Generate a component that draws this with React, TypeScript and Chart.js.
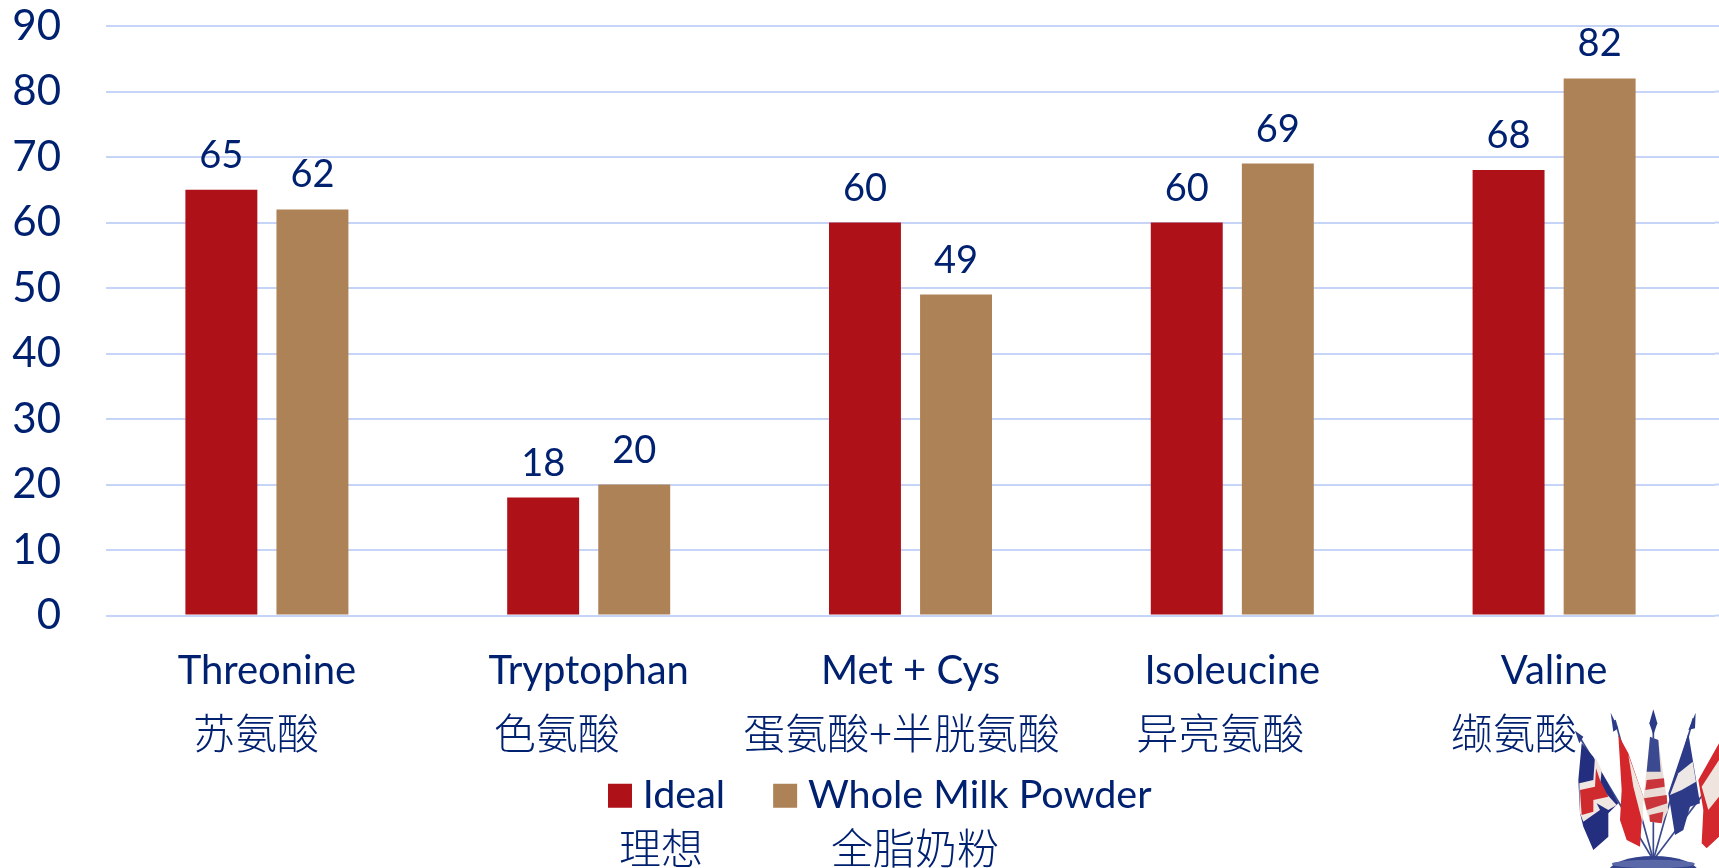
import React, { useEffect, useRef } from "react";
import { Chart, registerables } from "chart.js";

Chart.register(...registerables);

// Amino acid profile: ideal pattern against whole milk powder
const aminoAcids = ["Threonine", "Tryptophan", "Met + Cys", "Isoleucine", "Valine"];
const aminoAcidsZh = ["苏氨酸", "色氨酸", "蛋氨酸+半胱氨酸", "异亮氨酸", "缬氨酸"];
const idealValues = [65, 18, 60, 60, 68];
const milkPowderValues = [62, 20, 49, 69, 82];
const seriesNames = ["Ideal", "Whole Milk Powder"];
const seriesNamesZh = ["理想", "全脂奶粉"];

const INK = "#002070";
const GRID = "#C6D4F8";
const RED = "#AE1117";
const TAN = "#AE8257";
const LATIN = "Lato, 'Open Sans', sans-serif";
const CJK = "'Noto Sans CJK SC', sans-serif";

// Chinese captions sit a little left of the category centre
const captionShift = [-11, -32, -9, -12, -40];
const legendPad = 57;

const annotations = {
  id: "annotations",
  afterLayout(chart: any) {
    // Legend sits off-centre, just under the category captions
    const lg = chart.legend;
    const w = lg.right - lg.left;
    lg.left = 617 - legendPad;
    lg.right = lg.left + w;
    const h = lg.bottom - lg.top;
    lg.top = 776 - legendPad;
    lg.bottom = lg.top + h;
  },
  beforeDatasetsDraw(chart: any) {
    // Grid lines run on to the right edge of the canvas
    const { ctx, chartArea, scales, width } = chart;
    ctx.save();
    ctx.strokeStyle = GRID;
    ctx.lineWidth = 2;
    scales.y.ticks.forEach((_: any, i: number) => {
      const y = scales.y.getPixelForTick(i);
      ctx.beginPath();
      ctx.moveTo(chartArea.right, y);
      ctx.lineTo(width, y);
      ctx.stroke();
    });
    ctx.restore();
  },
  afterDatasetsDraw(chart: any) {
    const { ctx, scales } = chart;
    ctx.save();
    ctx.fillStyle = INK;
    ctx.textAlign = "center";
    ctx.textBaseline = "alphabetic";

    // Value labels above the bars
    ctx.font = `38px ${LATIN}`;
    chart.data.datasets.forEach((ds: any, d: number) => {
      chart.getDatasetMeta(d).data.forEach((bar: any, i: number) => {
        ctx.fillText(String(ds.data[i]), bar.x, bar.y - 22);
      });
    });

    // Chinese category captions
    ctx.font = `300 42px ${CJK}`;
    aminoAcidsZh.forEach((t, i) => {
      ctx.fillText(t, scales.x.getPixelForTick(i) + captionShift[i], 749);
    });

    // Chinese series captions under the legend
    ctx.fillText(seriesNamesZh[0], 661, 864);
    ctx.fillText(seriesNamesZh[1], 915, 864);
    ctx.restore();
  },
};

// Small emblem of five flags in a bowl, bottom right corner
function FlagEmblem() {
  return (
    <svg
      viewBox="0 0 1257 684"
      width={419}
      height={228}
      style={{ position: "absolute", left: 1300, top: 640 }}
    >
      <g stroke="#3A4A8C" strokeWidth={5} fill="none">
        <path d="M1060 660 L835 285" />
        <path d="M1060 660 L945 240" />
        <path d="M1060 660 L1060 225" />
        <path d="M1060 660 L1180 235" />
        <path d="M1060 660 L1257 400" />
      </g>
      <g fill="#2B3A86">
        <path d="M825 272 L850 290 L838 310 Z" />
        <path d="M932 218 L955 265 L940 275 Z" />
        <path d="M1060 208 L1072 250 L1060 285 L1048 250 Z" />
        <path d="M1187 218 L1185 265 L1165 270 Z" />
      </g>
      <path d="M845 310 L880 350 L955 490 L925 520 L925 590 L880 630 L850 560 L840 520 L835 420 Z" fill="#232F7E" />
      <path d="M838 430 L880 420 L885 350 L905 390 L900 440 L950 495 L925 510 L890 490 L900 510 L850 545 L840 520 Z" fill="#F0E6E2" />
      <path d="M840 450 L885 440 L888 385 L900 420 L925 470 L880 480 L880 515 L845 525 Z" fill="#CF2A2E" />
      <path d="M955 285 L985 340 L1030 470 L1020 620 L980 600 L960 540 L965 450 Z" fill="#D4262B" />
      <path d="M985 345 L1030 470 L1028 550 L1000 440 Z" fill="#EFE7DF" />
      <path d="M1050 290 L1075 300 L1105 510 L1085 550 L1050 545 L1030 480 Z" fill="#E9DCD6" />
      <path d="M1050 290 L1075 300 L1082 395 L1040 395 Z" fill="#3B4A90" />
      <path d="M1040 420 L1092 415 L1094 440 L1036 450 Z M1032 475 L1100 465 L1102 490 L1040 510 Z M1048 525 L1090 515 L1085 550 L1050 545 Z" fill="#C9353A" />
      <path d="M1165 280 L1200 490 L1170 500 L1150 570 L1125 585 L1105 460 Z" fill="#2C3A88" />
      <path d="M1135 400 L1178 365 L1188 425 L1145 450 L1110 465 Z" fill="#EDE8E6" />
      <path d="M1257 310 L1195 420 L1210 510 L1205 610 L1220 625 L1257 590 Z" fill="#D3282D" />
      <path d="M1257 360 L1205 440 L1225 510 L1257 470 Z" fill="#EFE5DE" />
      <ellipse cx={1060} cy={700} rx={137} ry={52} fill="#33428C" />
      <ellipse cx={1060} cy={672} rx={125} ry={13} fill="#5A68A8" />
    </svg>
  );
}

export default function App() {
  const ref = useRef<HTMLCanvasElement | null>(null);

  useEffect(() => {
    if (!ref.current) return;
    const chart = new Chart(ref.current, {
      type: "bar",
      data: {
        labels: aminoAcids,
        datasets: [
          {
            label: seriesNames[0],
            data: idealValues,
            backgroundColor: RED,
            categoryPercentage: 0.566,
            barPercentage: 0.79,
          },
          {
            label: seriesNames[1],
            data: milkPowderValues,
            backgroundColor: TAN,
            categoryPercentage: 0.566,
            barPercentage: 0.79,
          },
        ],
      },
      options: {
        responsive: false,
        animation: false,
        layout: { padding: { top: 26, right: 4, left: 0, bottom: 0 } },
        plugins: {
          title: { display: false },
          tooltip: { enabled: false },
          legend: {
            display: true,
            position: "bottom",
            align: "start",
            labels: {
              color: INK,
              font: { family: LATIN, size: 39.5 },
              padding: legendPad,
              boxWidth: 6,
              boxHeight: 6,
              // A thick outline in the fill colour makes a compact 24px swatch
              generateLabels: (c: any) =>
                c.data.datasets.map((ds: any, i: number) => ({
                  text: ds.label,
                  fillStyle: ds.backgroundColor,
                  strokeStyle: ds.backgroundColor,
                  lineWidth: 18,
                  fontColor: INK,
                  datasetIndex: i,
                })),
            },
          },
        },
        scales: {
          x: {
            grid: { display: false, drawTicks: false },
            border: { display: false },
            ticks: {
              color: INK,
              font: { family: LATIN, size: 40 },
              padding: 32,
              maxRotation: 0,
              autoSkip: false,
            },
            afterFit: (s: any) => {
              s.height = 146;
            },
          },
          y: {
            min: 0,
            max: 90,
            grid: { color: GRID, lineWidth: 2, drawTicks: false },
            border: { display: false },
            ticks: {
              stepSize: 10,
              color: INK,
              font: { family: LATIN, size: 42 },
              padding: 45,
            },
            afterFit: (s: any) => {
              s.width = 106;
              s.paddingTop = 0;
              s.paddingBottom = 0;
            },
          },
        },
      },
      plugins: [annotations],
    } as any);
    return () => chart.destroy();
  }, []);

  return (
    <div
      style={{
        position: "fixed",
        left: 0,
        top: 0,
        width: 1719,
        height: 868,
        overflow: "hidden",
        background: "#fff",
      }}
    >
      <canvas ref={ref} width={1719} height={868} style={{ display: "block" }} />
      <FlagEmblem />
    </div>
  );
}
